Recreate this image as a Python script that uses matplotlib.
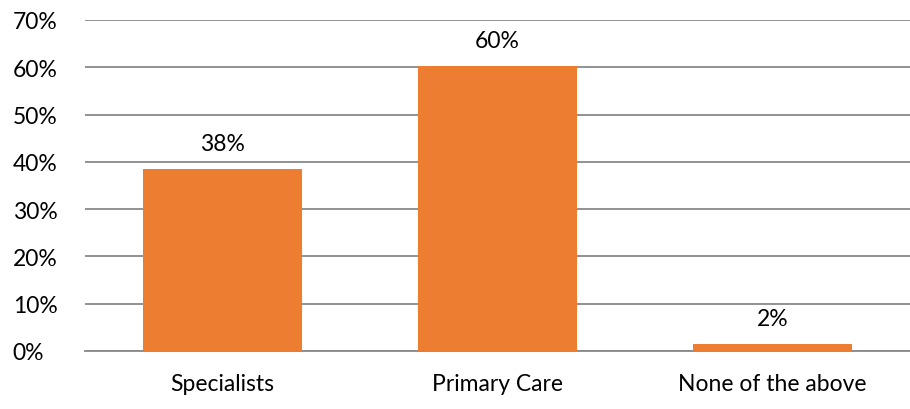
import matplotlib
matplotlib.use('Agg')
import matplotlib.pyplot as plt
import numpy as np

categories = ['Specialists', 'Primary Care', 'None of the above']
values = [38.4, 60.2, 1.5]
labels = ['38%', '60%', '2%']
yticks = [0, 10, 20, 30, 40, 50, 60, 70]

BAR = '#ED7D31'
GRID = '#898989'
TEXT = '#000000'
FONT = ['Lato', 'DejaVu Sans']

plt.rcParams['font.family'] = FONT

fig = plt.figure(figsize=(9.1, 4.1), dpi=100)
ax = fig.add_axes([0.0934, 0.1415, 0.9066, 0.8073])

x = np.arange(len(categories))
ax.bar(x, values, width=0.58, color=BAR, zorder=3)

for xi, v, lab in zip(x, values, labels):
    ax.text(xi, v + 3.2, lab, ha='center', va='bottom', fontsize=16.5, color=TEXT)

ax.set_xlim(-0.5, len(categories) - 0.5)
ax.set_ylim(0, 70)
ax.set_yticks(yticks)
ax.set_yticklabels([f'{t}%' for t in yticks], fontsize=16.5, color=TEXT)
ax.set_xticks(x)
ax.set_xticklabels(categories, fontsize=16.5, color=TEXT)

ax.yaxis.grid(True, color=GRID, linewidth=1.3, zorder=0)
ax.set_axisbelow(True)
ax.tick_params(axis='both', length=0)
ax.tick_params(axis='x', pad=16)
for s in ['top', 'right', 'left']:
    ax.spines[s].set_visible(False)
ax.spines['bottom'].set_color(GRID)
ax.spines['bottom'].set_linewidth(1.3)

for lab in ax.get_yticklabels():
    lab.set_horizontalalignment('left')
ax.yaxis.set_tick_params(pad=52)

fig.savefig('out.png', dpi=100, facecolor='white')
